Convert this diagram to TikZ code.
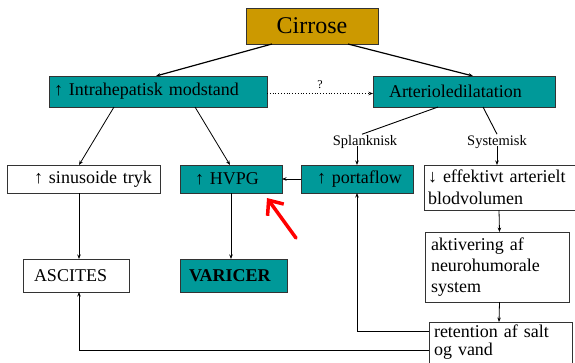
\documentclass[tikz,border=0pt]{standalone}
\usepackage{fontspec}
\setmainfont{Liberation Serif}
\usepackage{tikz}
\usetikzlibrary{positioning}
\usetikzlibrary{calc}
\usetikzlibrary{arrows.meta}

\definecolor{boxteal}{RGB}{0,153,153}
\definecolor{boxgold}{RGB}{204,153,0}
\newcommand{\boxfont}{\fontsize{18}{22}\selectfont}

\tikzset{
	box/.style={draw=black!80, line width=0.8pt, anchor=north west, outer sep=0pt,
		inner xsep=4pt, inner ysep=1pt, align=left, font=\boxfont},
	tealbox/.style={box, fill=boxteal},
	whitebox/.style={box, fill=white},
	lead/.style={execute at begin node={\hspace*{#1}}},
	arr/.style={-{Stealth[length=4.5pt,width=3.5pt]}, line width=0.8pt},
	branch/.style={font=\fontsize{14.5}{16}\selectfont, inner sep=1pt},
}

\begin{document}
\begin{tikzpicture}[x=1pt, y=-1pt]
	\fill[white] (0,0) rectangle (575,362);
	\useasboundingbox (0,0) rectangle (575,362);

	% top level
	\node[box, fill=boxgold, align=center, minimum width=132pt, minimum height=36pt,
		font=\fontsize{24}{28}\selectfont] (cirrose) at (246,8) {Cirrose};
	\node[tealbox, text width=210pt, minimum height=31pt, lead=1pt] (intra) at (49,76) {↑ Intrahepatisk modstand};
	\node[tealbox, text width=174pt, minimum height=31pt, lead=12pt] (arterio) at (373,76) {Arterioledilatation};

	% branch labels
	\node[branch] (splank) at (365,142) {Splanknisk};
	\node[branch] (system) at (497,142) {Systemisk};

	% middle row
	\node[whitebox, text width=145pt, minimum height=28pt, lead=23pt] (sinus) at (7,165) {↑ sinusoide tryk};
	\node[tealbox, text width=94pt, minimum height=28pt, lead=11pt] (hvpg) at (180,165) {↑ HVPG};
	\node[tealbox, text width=104pt, minimum height=28pt, lead=12pt] (porta) at (301,165) {↑ portaflow};
	\node[whitebox, text width=152pt, minimum height=45pt] (effekt) at (424,165) {↓ effektivt arterielt\\blodvolumen};

	% lower rows
	\node[whitebox, text width=98pt, minimum height=33pt, lead=7pt] (ascites) at (23,259) {ASCITES};
	\node[tealbox, text width=99pt, minimum height=33pt, lead=5pt, font=\boxfont\bfseries] (varicer) at (180,259) {VARICER};
	\node[whitebox, text width=132pt, inner xsep=6pt, minimum height=70pt,
		font=\fontsize{18}{21}\selectfont] (aktiv) at (425,232) {aktivering af\\neurohumorale\\system};
	\node[whitebox, text width=133pt, inner xsep=5pt, inner ysep=3pt, text depth=30pt,
		font=\fontsize{18}{18}\selectfont] (retent) at (429,322) {retention af salt\\og vand};

	% connectors
	\draw[arr, line width=1.2pt] ([xshift=-40pt]cirrose.south) -- ([xshift=-2pt]intra.north);
	\draw[arr, line width=1.2pt] ([xshift=36pt]cirrose.south) -- ([xshift=9pt]arterio.north);
	\draw[arr, dotted, line width=0.7pt] ([yshift=-2pt]intra.east) -- node[above, yshift=3pt, inner sep=1pt,
		font=\fontsize{12}{14}\selectfont] (q) {?} ([yshift=-2pt]arterio.west);
	\draw[arr] ([xshift=-44pt]intra.south) -- ([xshift=-4.5pt]sinus.north);
	\draw[arr] ([xshift=37pt]intra.south) -- ([xshift=-1pt]hvpg.north);
	\draw[line width=0.9pt] ([xshift=-26pt]arterio.south) -- ([xshift=-3pt]splank.north);
	\draw[line width=0.9pt] ([xshift=19pt]arterio.south) -- (system.north);
	\draw[arr] ([xshift=-8pt,yshift=-4pt]splank.center) -- (porta.north);
	\draw[arr] ([yshift=-4pt]system.center) -- ([xshift=-7pt]effekt.north);
	\draw[arr] (porta.west) -- (hvpg.east);
	\draw[arr] (hvpg.south) -- ([xshift=-2.5pt]varicer.north);
	\draw[arr] ([xshift=-4.5pt]sinus.south) -- ([xshift=3pt]ascites.north);
	\draw[arr] ([xshift=-5pt]effekt.south) -- ([xshift=2.5pt]aktiv.north);
	\draw[arr] ([xshift=2.5pt]aktiv.south) -- ([xshift=-1.5pt]retent.north);
	\draw[arr] ([yshift=-9pt]retent.north west) -| (porta.south);
	\draw[arr] ([yshift=-28pt]retent.north west) -| ([xshift=3pt]ascites.south);

	% red pointer
	\coordinate (redtail) at (296,238);
	\draw[red, line width=3.5pt, line cap=round, -{Straight Barb[length=12pt,width=20pt]}]
		(redtail) -- ([xshift=-15pt,yshift=-5pt]hvpg.south east);
\end{tikzpicture}
\end{document}
